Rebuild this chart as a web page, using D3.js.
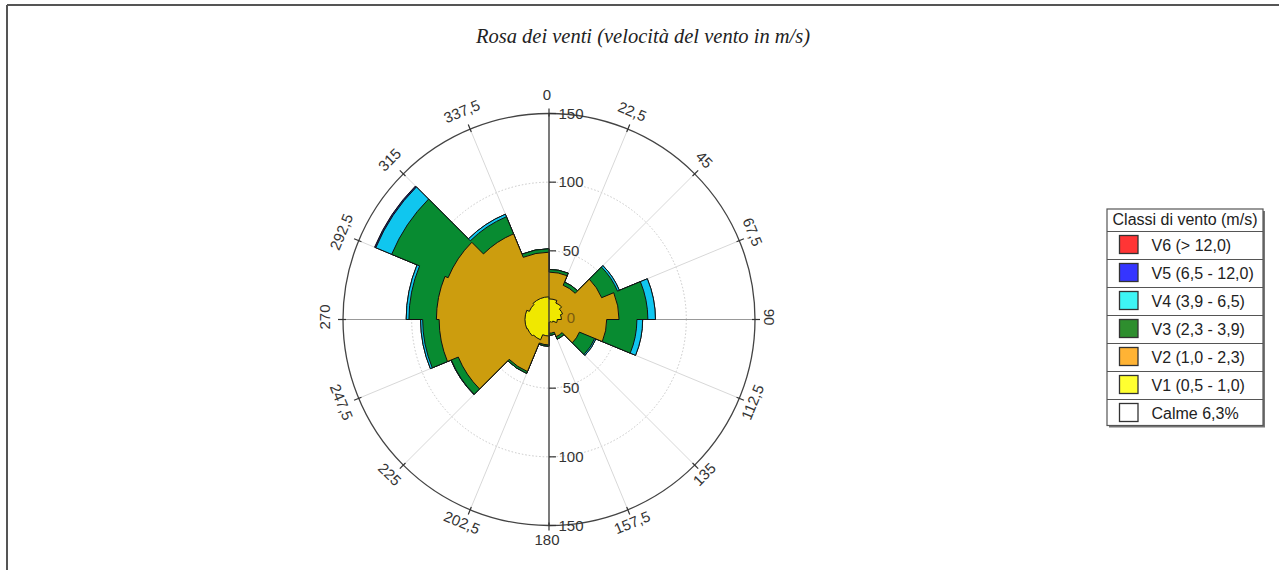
<!DOCTYPE html>
<html><head><meta charset="utf-8">
<script src="https://cdn.jsdelivr.net/npm/d3@7"></script>
<style>html,body{margin:0;padding:0;background:#fff;}svg{display:block;}</style>
</head><body>
<script>
// ---- data ----
const sectorStart = [0,22.5,45,67.5,90,112.5,135,157.5,180,202.5,225,247.5,270,292.5,315,337.5];
const angleLabels = ["0","22,5","45","67,5","90","112,5","135","157,5","180","202,5","225","247,5","270","292,5","315","337,5"];
const v1 = [15,13,10.7,9,6,3,2,2,12,16,17,17.5,17.5,15.5,16.5,16.5];
const v2 = [19.5,14,30.8,42,36,21,11.5,8,6.5,25,54.5,62.5,64.5,64,51,32.5];
const v3 = [2,2.5,12.5,21,22,12,2,1.5,1,1.5,5.5,12,20,44.5,13.5,2.5];
const v4 = [0,0,1.5,5.5,4.2,1,0,0,0,0,0.3,1.5,2,12.5,2,0];
const v5 = [0,0,0,0,0,0,0,0,0,0,0,0,0,1,0,0];
const v6 = [0,0,0,0,0,0,0,0,0,0,0,0,0,0,0,0];
const classNames = ["V6 (> 12,0)","V5 (6,5 - 12,0)","V4 (3,9 - 6,5)","V3 (2,3 - 3,9)","V2 (1,0 - 2,3)","V1 (0,5 - 1,0)","Calme 6,3%"];
const legendColors = ["#FF3535","#3535FF","#3EF5F5","#2E8E2E","#FFB334","#FFFF30","#FFFFFF"];
const plotColors = ["#F0E800","#CC9D0E","#088B31","#10C6EF","#1a1a78","#E02020"]; // V1..V6
const radialTicks = [0,50,100,150];
const legendTitle = "Classi di vento (m/s)";
const chartTitle = "Rosa dei venti (velocità del vento in m/s)";

const W = 1279, H = 570;
const cx = 549, cy = 319.5, R = 206;
const svg = d3.select("body").append("svg").attr("width", W).attr("height", H);

// frame
svg.append("line").attr("x1",7).attr("x2",W).attr("y1",5).attr("y2",5).attr("stroke","#555").attr("stroke-width",2);
svg.append("line").attr("x1",7).attr("x2",7).attr("y1",5).attr("y2",H).attr("stroke","#555").attr("stroke-width",2);

// title
svg.append("text").attr("x",643).attr("y",43).attr("text-anchor","middle")
  .attr("font-family","'Liberation Serif','Times New Roman',serif").attr("font-style","italic")
  .attr("font-size",20.5).attr("fill","#222").text(chartTitle);

const r = d3.scaleLinear().domain([0,150]).range([0,R]);
const toRad = d => d*Math.PI/180;
const g = svg.append("g").attr("transform",`translate(${cx},${cy})`);

// grid circles
[50,100].forEach(v=>{
  g.append("circle").attr("r",r(v)).attr("fill","none").attr("stroke","#c8c8c8").attr("stroke-width",1).attr("stroke-dasharray","1.5,2");
});
// spokes
sectorStart.forEach((a)=>{
  const t = toRad(a);
  if (a===0||a===180) return;
  const col = (a===90||a===270) ? "#999" : "#d8d8d8";
  g.append("line").attr("x1",0).attr("y1",0).attr("x2",Math.sin(t)*R).attr("y2",-Math.cos(t)*R)
    .attr("stroke",col).attr("stroke-width",1);
});
// outer circle
g.append("circle").attr("r",R).attr("fill","none").attr("stroke","#444").attr("stroke-width",1.3);
// outer ticks
sectorStart.forEach(a=>{
  const t = toRad(a);
  g.append("line").attr("x1",Math.sin(t)*(R-3)).attr("y1",-Math.cos(t)*(R-3))
    .attr("x2",Math.sin(t)*(R+5)).attr("y2",-Math.cos(t)*(R+5)).attr("stroke","#333").attr("stroke-width",1.2);
});

// wedges: one outlined shape per cumulative class, outermost first
const series = [v1,v2,v3,v4,v5,v6];
const step = 22.5;
const cumul = [];
series.forEach((s,k)=>{
  cumul.push(sectorStart.map((_,i)=> s[i] + (k>0 ? cumul[k-1][i] : 0)));
});
const pt = (ang, rad) => [Math.sin(toRad(ang))*rad, -Math.cos(toRad(ang))*rad];
for (let k = series.length-1; k >= 0; k--) {
  if (d3.max(series[k]) <= 0) continue;
  const p = d3.path();
  sectorStart.forEach((a,i)=>{
    const rr = r(cumul[k][i]);
    const s0 = pt(a, rr);
    if (i===0) p.moveTo(s0[0], s0[1]); else p.lineTo(s0[0], s0[1]);
    if (rr > 0) p.arc(0, 0, rr, toRad(a) - Math.PI/2, toRad(a+step) - Math.PI/2, false);
  });
  p.closePath();
  g.append("path").attr("d", p.toString()).attr("fill", plotColors[k])
    .attr("stroke","#111").attr("stroke-width",1).attr("stroke-linejoin","miter");
}

// vertical axis
g.append("line").attr("x1",0).attr("x2",0).attr("y1",-R).attr("y2",R).attr("stroke","#333").attr("stroke-width",1.3);
// radial ticks & labels (up and down)
radialTicks.forEach(v=>{
  [-1,1].forEach(sgn=>{
    if (v===0 && sgn===1) return;
    const y = sgn*r(v);
    if (v>0) g.append("line").attr("x1",0).attr("x2",7).attr("y1",y).attr("y2",y).attr("stroke","#333").attr("stroke-width",1.2);
    g.append("text").attr("x",22).attr("y",y - (v===0 ? 2 : 0)).attr("dy","0.35em").attr("text-anchor","middle")
      .attr("font-family","'Liberation Sans',Arial,sans-serif").attr("font-size",15)
      .attr("fill", v===0 ? "#7a5a10" : "#333").text(v);
  });
});

// angle labels
const LR = 222.5, lox = -2, loy = -2.5;
sectorStart.forEach((a,i)=>{
  const t = toRad(a);
  const x = Math.sin(t)*LR + lox, y = -Math.cos(t)*LR + loy;
  const rot = a<=90 ? a : (a<270 ? a-180 : a-360);
  g.append("text").attr("transform",`translate(${x},${y}) rotate(${rot})`)
    .attr("text-anchor","middle").attr("dy","0.35em")
    .attr("font-family","'Liberation Sans',Arial,sans-serif").attr("font-size",15).attr("fill","#333")
    .text(angleLabels[i]);
});

// legend
const lx = 1107, ly = 209, lw = 156, titleH = 22.5, rowH = 28;
const lh = titleH + rowH*classNames.length - 2;
svg.append("rect").attr("x",lx+2).attr("y",ly+2).attr("width",lw).attr("height",lh).attr("fill","#777");
svg.append("rect").attr("x",lx).attr("y",ly).attr("width",lw).attr("height",lh).attr("fill","#fff").attr("stroke","#555").attr("stroke-width",1.2);
svg.append("text").attr("x",lx+lw/2).attr("y",ly+16).attr("text-anchor","middle")
  .attr("font-family","'Liberation Sans',Arial,sans-serif").attr("font-size",16).attr("fill","#222").text(legendTitle);
classNames.forEach((name,i)=>{
  const top = ly+titleH + i*rowH;
  svg.append("line").attr("x1",lx).attr("x2",lx+lw).attr("y1",top).attr("y2",top).attr("stroke","#555").attr("stroke-width",1.2);
  svg.append("rect").attr("x",1119.5).attr("y",top+4).attr("width",18.5).attr("height",18).attr("fill",legendColors[i]).attr("stroke","#333").attr("stroke-width",1.3);
  svg.append("text").attr("x",1151.5).attr("y",top+19.5).attr("font-family","'Liberation Sans',Arial,sans-serif")
    .attr("font-size",16).attr("fill","#222").text(name);
});
</script>
</body></html>
